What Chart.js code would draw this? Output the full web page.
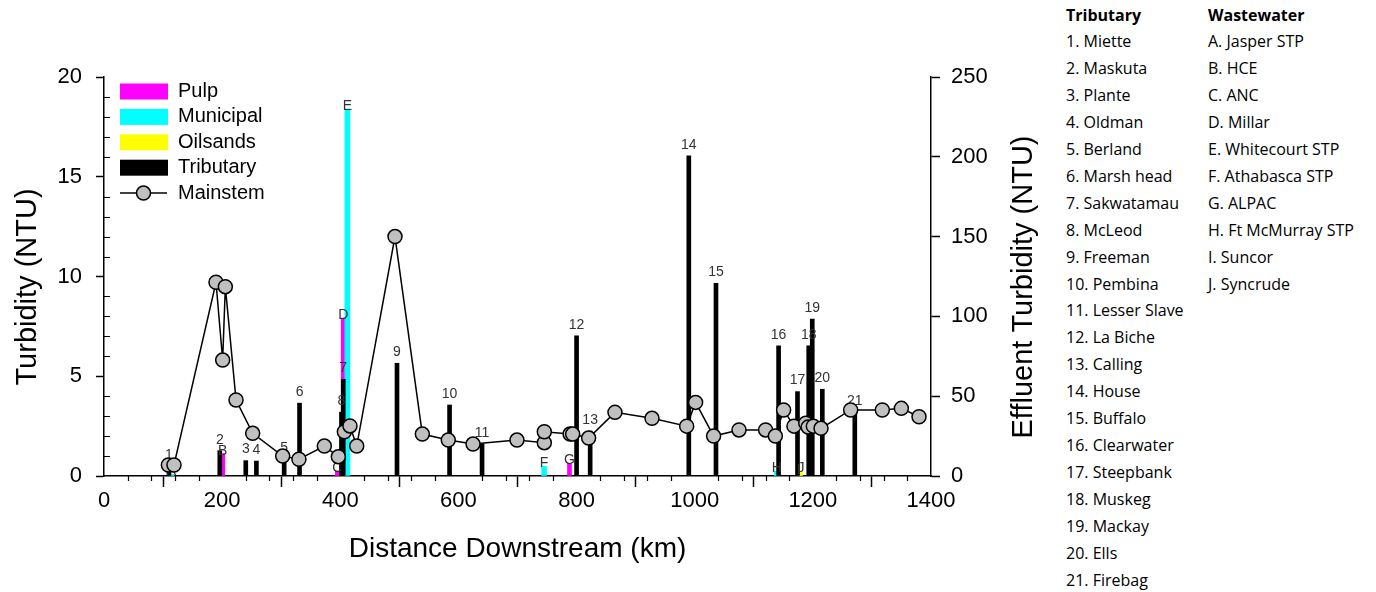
<!DOCTYPE html>
<html>
<head>
<meta charset="utf-8">
<script src="https://cdn.jsdelivr.net/npm/chart.js"></script>
<style>
  body { margin: 0; background: #fff; }
  #wrap { position: relative; width: 1376px; height: 592px; overflow: hidden; }
  #turbidityChart { position: absolute; left: 0; top: 0; }
  .list {
    position: absolute;
    top: 1.5px;
    font-family: "Open Sans", sans-serif;
    font-size: 16px;
    line-height: 26.9px;
    color: #000;
    white-space: nowrap;
  }
  .list b { font-weight: 700; }
</style>
</head>
<body>
<div id="wrap">
  <canvas id="turbidityChart" width="1050" height="592"></canvas>
  <div class="list" id="tribList" style="left:1066px"></div>
  <div class="list" id="wasteList" style="left:1208px"></div>
</div>
<script>
const tributaryNames = ["Miette", "Maskuta", "Plante", "Oldman", "Berland", "Marsh head",
  "Sakwatamau", "McLeod", "Freeman", "Pembina", "Lesser Slave", "La Biche", "Calling",
  "House", "Buffalo", "Clearwater", "Steepbank", "Muskeg", "Mackay", "Ells", "Firebag"];
const wastewaterNames = ["Jasper STP", "HCE", "ANC", "Millar", "Whitecourt STP",
  "Athabasca STP", "ALPAC", "Ft McMurray STP", "Suncor", "Syncrude"];

// tributary inflows (left axis, NTU)
const tributaryKm = [110, 196, 240, 258, 305, 331, 405, 402, 496, 585, 640, 800, 823,
  990, 1036, 1142, 1174, 1193, 1199, 1216, 1271];
const tributaryNtu = [0.5, 1.27, 0.77, 0.75, 0.85, 3.65, 4.85, 3.2, 5.65, 3.56, 1.62, 7.03,
  2.25, 16.05, 9.66, 6.53, 4.23, 6.52, 7.87, 4.35, 3.2];

// effluents (right axis, NTU)
const pulpLabels = ["B", "C", "D", "G"];
const pulpKm = [201, 395, 405, 788];
const pulpNtu = [14, 3, 99, 8];
const municipalLabels = ["A", "E", "F", "H"];
const municipalKm = [114, 412, 745, 1139];
const municipalNtu = [1, 230, 6, 3];
const oilsandsLabels = ["I", "J"];
const oilsandsKm = [1176, 1180];
const oilsandsNtu = [2, 3];

// mainstem samples
const mainstemKm = [109, 118.5, 189.6, 200.9, 205.4, 223.5, 251.7, 302.5, 330, 373, 396.7,
  406.9, 416.4, 427.8, 492.6, 538.9, 582.8, 624.7, 699.1, 745.4, 745.4, 789, 793.4, 820.4,
  865, 927.7, 986.4, 1001.5, 1032, 1075, 1120, 1136.5, 1150.5, 1168, 1188, 1192, 1200.8,
  1213.8, 1264, 1317.6, 1349.8, 1379.7];
const mainstemNtu = [0.55, 0.55, 9.71, 5.81, 9.49, 3.81, 2.14, 1.0, 0.84, 1.5, 0.97,
  2.22, 2.51, 1.5, 12.0, 2.1, 1.8, 1.6, 1.8, 1.67, 2.22, 2.1, 2.1, 1.9,
  3.19, 2.89, 2.5, 3.69, 2.0, 2.31, 2.31, 2.0, 3.31, 2.5, 2.65, 2.45, 2.5,
  2.39, 3.31, 3.31, 3.39, 2.97];

const FONT = '"Liberation Sans", Arial, sans-serif';

function points(xs, ys) {
  return xs.map((x, i) => ({ x, y: ys[i] }));
}

// side lists
document.getElementById("tribList").innerHTML =
  "<b>Tributary</b><br>" + tributaryNames.map((n, i) => `${i + 1}. ${n}`).join("<br>");
document.getElementById("wasteList").innerHTML =
  "<b>Wastewater</b><br>" +
  wastewaterNames.map((n, i) => `${String.fromCharCode(65 + i)}. ${n}`).join("<br>");

// bar labels, drawn just before the mainstem line so the markers sit on top
const barLabelPlugin = {
  id: "barLabels",
  beforeDatasetDraw(chart, args) {
    if (args.meta.type !== "line") return;
    const ctx = chart.ctx;
    ctx.save();
    ctx.font = "14px " + FONT;
    ctx.fillStyle = "#333";
    ctx.textAlign = "center";
    ctx.textBaseline = "middle";
    chart.data.datasets.forEach((ds, i) => {
      if (!ds.pointLabels) return;
      const lift = ds.label === "Tributary" ? 11 : 3;
      chart.getDatasetMeta(i).data.forEach((bar, j) => {
        ctx.fillText(ds.pointLabels[j], bar.x, bar.y - lift);
      });
    });
    ctx.restore();
  },
};

// minor ticks, legend box and axis titles
const decorPlugin = {
  id: "decor",
  afterDraw(chart) {
    const ctx = chart.ctx;
    const { left, right, top, bottom } = chart.chartArea;
    const x = chart.scales.x;
    const y = chart.scales.y;
    ctx.save();
    ctx.strokeStyle = "#000";
    ctx.lineWidth = 1.2;
    ctx.beginPath();
    for (let v = 40; v < 1400; v += 40) {
      if (v % 200 === 0) continue;
      const px = Math.round(x.getPixelForValue(v)) + 0.5;
      ctx.moveTo(px, bottom);
      ctx.lineTo(px, bottom + 5);
    }
    for (let v = 1; v < 20; v++) {
      if (v % 5 === 0) continue;
      const py = Math.round(y.getPixelForValue(v)) + 0.5;
      ctx.moveTo(left, py);
      ctx.lineTo(left + 6, py);
    }
    ctx.stroke();

    // legend
    const order = ["Pulp", "Municipal", "Oilsands", "Tributary", "Mainstem"];
    ctx.font = "20px " + FONT;
    ctx.textBaseline = "middle";
    ctx.textAlign = "left";
    order.forEach((name, i) => {
      const ds = chart.data.datasets.find((d) => d.label === name);
      const cy = 91.5 + i * 25.4;
      if (name === "Mainstem") {
        ctx.strokeStyle = "#000";
        ctx.lineWidth = 1.5;
        ctx.beginPath();
        ctx.moveTo(120, cy);
        ctx.lineTo(167, cy);
        ctx.stroke();
        ctx.beginPath();
        ctx.arc(143.5, cy, 7, 0, Math.PI * 2);
        ctx.fillStyle = ds.pointBackgroundColor;
        ctx.fill();
        ctx.stroke();
      } else {
        ctx.fillStyle = ds.backgroundColor;
        ctx.fillRect(120, cy - 8, 48, 16);
      }
      ctx.fillStyle = "#000";
      ctx.fillText(name, 178, cy);
    });

    // axis titles
    ctx.font = "28px " + FONT;
    ctx.textAlign = "center";
    ctx.fillStyle = "#000";
    ctx.fillText("Distance Downstream (km)", (left + right) / 2, 549);
    ctx.font = "29px " + FONT;
    ctx.save();
    ctx.translate(28, 287);
    ctx.rotate(-Math.PI / 2);
    ctx.fillText("Turbidity (NTU)", 0, 0);
    ctx.restore();
    ctx.save();
    ctx.translate(1024, 287);
    ctx.rotate(-Math.PI / 2);
    ctx.fillText("Effluent Turbidity (NTU)", 0, 0);
    ctx.restore();
    ctx.restore();
  },
};

const tickFont = { family: FONT, size: 22 };
const plainTick = (v) => String(v);

new Chart(document.getElementById("turbidityChart"), {
  type: "bar",
  data: {
    datasets: [
      {
        label: "Pulp",
        data: points(pulpKm, pulpNtu),
        pointLabels: pulpLabels,
        yAxisID: "y2",
        backgroundColor: "#ff00ff",
        barThickness: 4,
        grouped: false,
        order: 4,
      },
      {
        label: "Municipal",
        data: points(municipalKm, municipalNtu),
        pointLabels: municipalLabels,
        yAxisID: "y2",
        backgroundColor: "#00ffff",
        barThickness: 5,
        grouped: false,
        order: 2,
      },
      {
        label: "Oilsands",
        data: points(oilsandsKm, oilsandsNtu),
        pointLabels: oilsandsLabels,
        yAxisID: "y2",
        backgroundColor: "#ffff00",
        barThickness: 3,
        grouped: false,
        order: 3,
      },
      {
        label: "Tributary",
        data: points(tributaryKm, tributaryNtu),
        pointLabels: tributaryKm.map((_, i) => String(i + 1)),
        yAxisID: "y",
        backgroundColor: "#000000",
        barThickness: 4,
        grouped: false,
        order: 1,
      },
      {
        label: "Mainstem",
        type: "line",
        data: points(mainstemKm, mainstemNtu),
        yAxisID: "y",
        borderColor: "#000",
        borderWidth: 1.5,
        tension: 0,
        pointRadius: 7,
        pointBackgroundColor: "#c0c0c0",
        pointBorderColor: "#000",
        pointBorderWidth: 1.5,
        order: 0,
      },
    ],
  },
  options: {
    responsive: false,
    animation: false,
    layout: { padding: { top: 77, left: 0, right: 0, bottom: 0 } },
    plugins: { legend: { display: false }, tooltip: { enabled: false } },
    scales: {
      x: {
        type: "linear",
        min: 0,
        max: 1400,
        offset: false,
        ticks: { stepSize: 200, font: tickFont, color: "#000", padding: 1, maxRotation: 0, callback: plainTick },
        grid: { drawOnChartArea: false, tickLength: 11, color: "#000", tickWidth: 1.5 },
        border: { color: "#000", width: 1.5 },
        afterFit(scale) { scale.height = 116; },
      },
      y: {
        position: "left",
        min: 0,
        max: 20,
        ticks: { stepSize: 5, font: tickFont, color: "#000", padding: 14, callback: plainTick },
        grid: { drawOnChartArea: false, tickLength: 8, color: "#000", tickWidth: 1.5 },
        border: { color: "#000", width: 1.5 },
        afterFit(scale) { scale.width = 104; },
      },
      y2: {
        position: "right",
        min: 0,
        max: 250,
        ticks: { stepSize: 50, font: tickFont, color: "#000", padding: 11, callback: plainTick },
        grid: { drawOnChartArea: false, tickLength: 9, color: "#000", tickWidth: 1.5 },
        border: { color: "#000", width: 1.5 },
        afterFit(scale) { scale.width = 119; },
      },
    },
  },
  plugins: [barLabelPlugin, decorPlugin],
});
</script>
</body>
</html>
